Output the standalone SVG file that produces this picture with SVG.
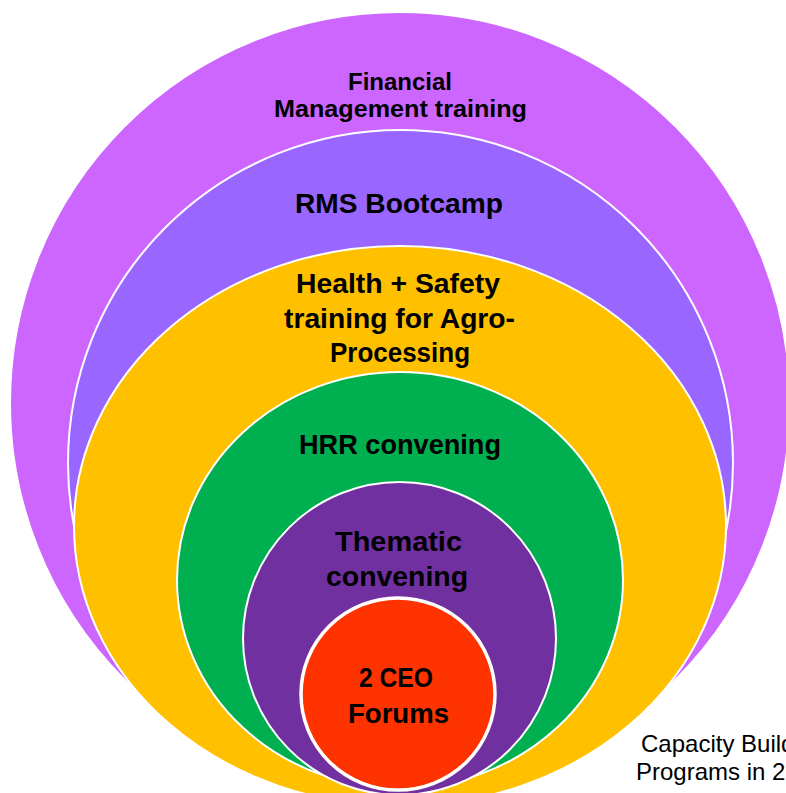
<svg xmlns="http://www.w3.org/2000/svg" width="786" height="793" viewBox="0 0 786 793">
  <style>
    .ring { stroke: #FFFFFF; stroke-width: 2; }
    .lbl { font-family: "Liberation Sans", Arial, sans-serif; font-weight: bold; font-size: 28px; fill: #000000; text-anchor: middle; }
    .lbl-s { font-size: 23.5px; }
    .cap { font-family: "Liberation Sans", Arial, sans-serif; font-size: 24px; fill: #000000; }
  </style>
  <rect x="0" y="0" width="786" height="793" fill="#FFFFFF"/>
  <g id="connectors"></g>
  <g id="node-financial">
    <ellipse class="ring" cx="400" cy="403" rx="390" ry="391" fill="#CC66FF"/>
    <text class="lbl lbl-s" x="400" y="90" textLength="104" lengthAdjust="spacingAndGlyphs">Financial</text>
    <text class="lbl lbl-s" x="400.5" y="117" textLength="253" lengthAdjust="spacingAndGlyphs">Management training</text>
  </g>
  <g id="node-rms">
    <ellipse class="ring" cx="400.5" cy="463" rx="332.5" ry="333" fill="#9966FF"/>
    <text class="lbl" x="399" y="213" textLength="208" lengthAdjust="spacingAndGlyphs">RMS Bootcamp</text>
  </g>
  <g id="node-health">
    <ellipse class="ring" cx="400" cy="526" rx="326" ry="280" fill="#FFC000"/>
    <text class="lbl" x="398" y="293" textLength="204" lengthAdjust="spacingAndGlyphs">Health + Safety</text>
    <text class="lbl" x="399.5" y="328" textLength="231" lengthAdjust="spacingAndGlyphs">training for Agro-</text>
    <text class="lbl" x="400" y="362" textLength="140" lengthAdjust="spacingAndGlyphs">Processing</text>
  </g>
  <g id="node-hrr">
    <ellipse class="ring" cx="400" cy="580" rx="223" ry="208" fill="#00B050"/>
    <text class="lbl" x="400" y="454" textLength="202" lengthAdjust="spacingAndGlyphs">HRR convening</text>
  </g>
  <g id="node-thematic">
    <ellipse class="ring" cx="399.5" cy="638.5" rx="156.5" ry="156.5" fill="#7030A0"/>
    <text class="lbl" x="398.5" y="551" textLength="127" lengthAdjust="spacingAndGlyphs">Thematic</text>
    <text class="lbl" x="397" y="586" textLength="142" lengthAdjust="spacingAndGlyphs">convening</text>
  </g>
  <g id="node-ceo">
    <ellipse cx="398" cy="694" rx="97" ry="96" fill="#FF3300" stroke="#FFFFFF" stroke-width="3.5"/>
    <text class="lbl" x="396" y="687" textLength="74" lengthAdjust="spacingAndGlyphs">2 CEO</text>
    <text class="lbl" x="398.5" y="723" textLength="101" lengthAdjust="spacingAndGlyphs">Forums</text>
  </g>
  <g id="caption">
    <text class="cap" x="641" y="752">Capacity Building</text>
    <text class="cap" x="636" y="780">Programs in 20</text>
  </g>
</svg>
